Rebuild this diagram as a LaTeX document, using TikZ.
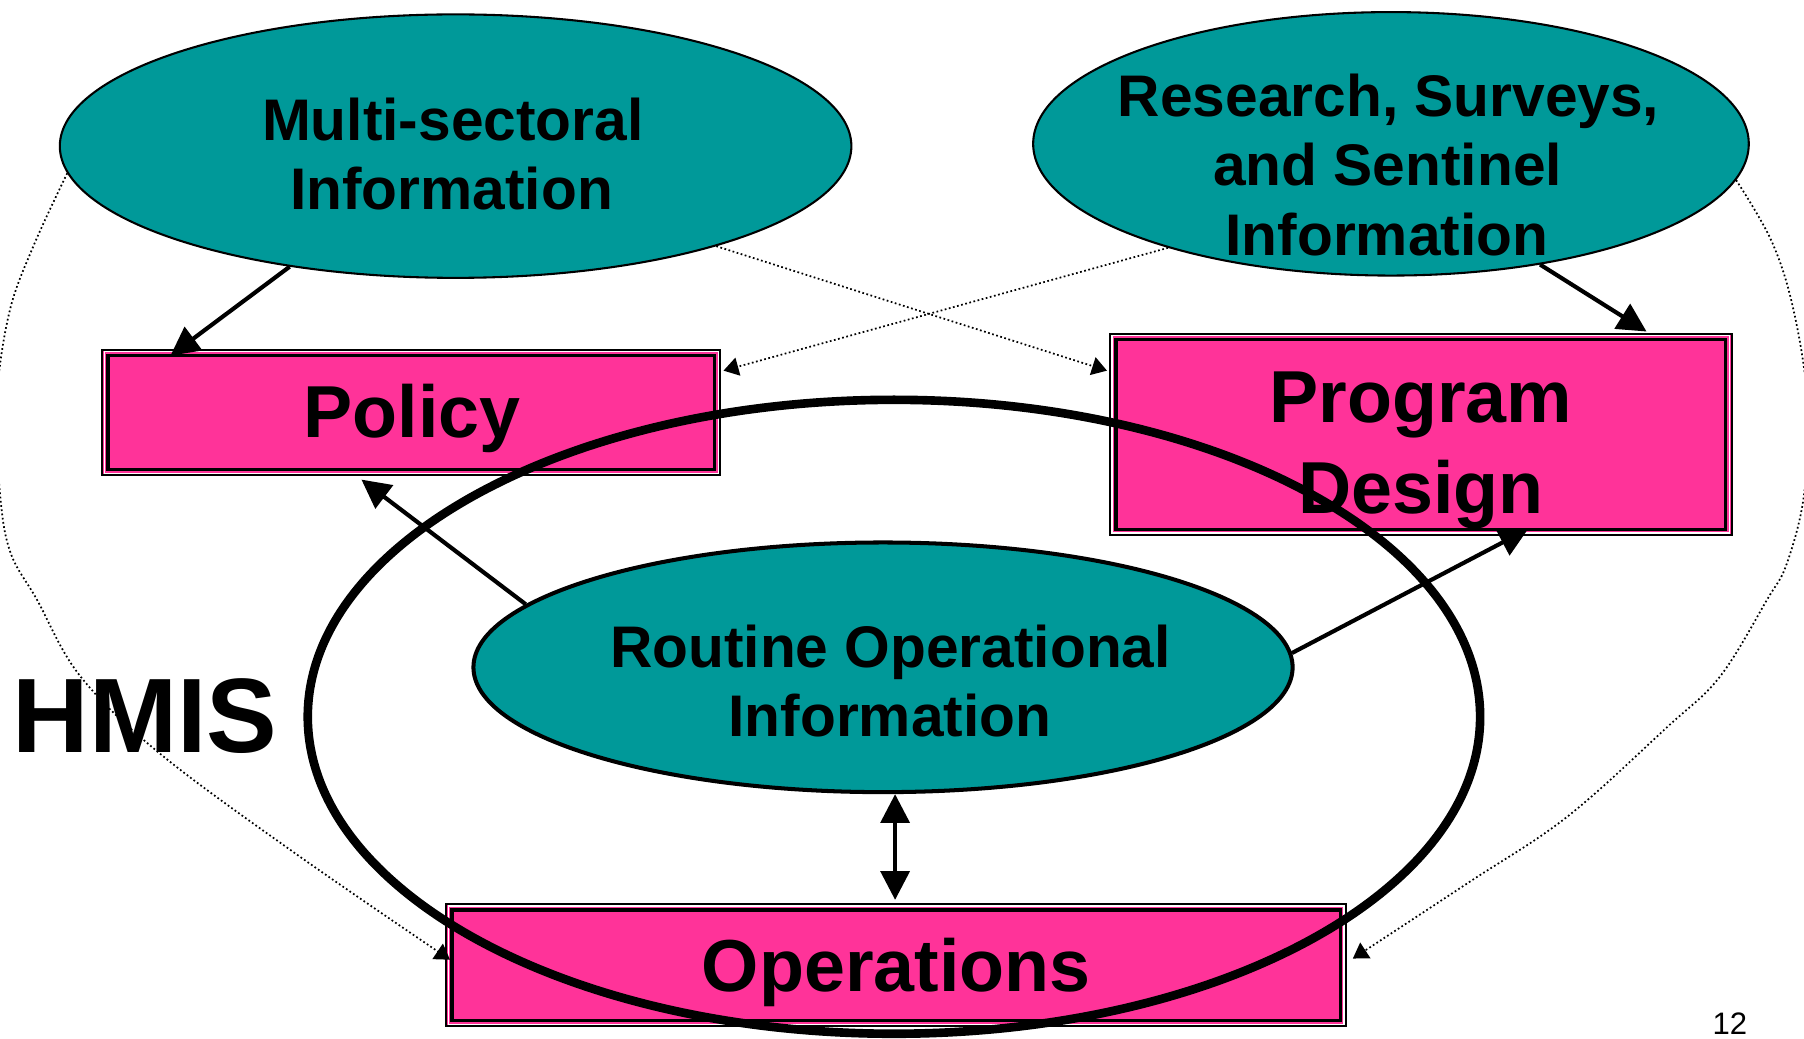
\documentclass[tikz,border=0pt]{standalone}
\usepackage{fontspec}
\setmainfont{Liberation Sans}
\usetikzlibrary{arrows.meta,shapes.geometric,calc}
\definecolor{tealfill}{HTML}{009999}
\definecolor{pinkfill}{HTML}{FF3399}
\begin{document}
\begin{tikzpicture}[x=1pt,y=-1pt,
  info/.style={ellipse, draw=black, fill=tealfill, inner sep=0pt},
  pbox/.style={rectangle, draw=black, fill=pinkfill, line width=1.7pt, inner sep=0pt},
  etxt/.style={anchor=base, inner sep=0pt, font=\fontsize{51}{60}\selectfont\bfseries},
  btxt/.style={anchor=base, inner sep=0pt, font=\fontsize{64}{78}\selectfont\bfseries},
  solidarr/.style={line width=3.6pt, -{Triangle[length=25pt,width=25pt]}},
  botharr/.style={line width=3.6pt, {Triangle[length=25pt,width=25pt]}-{Triangle[length=25pt,width=25pt]}},
  dotarr/.style={line width=1.5pt, dash pattern=on 1.5pt off 2.2pt, -{Triangle[length=13pt,width=16pt]}},
  ringstyle/.style={ellipse, draw=black, line width=7.5pt, inner sep=0pt}
]
\useasboundingbox (0,0) rectangle (1568,903);

% information ellipses
\node[info, line width=1.8pt, minimum width=688pt, minimum height=229pt] (multi) at (396,127) {};
\node[info, line width=1.8pt, minimum width=622pt, minimum height=229pt] (research) at (1209,125) {};
\node[info, line width=3.5pt, minimum width=712pt, minimum height=217pt] (routine) at (767.5,580) {};

% use boxes
\node[pbox, minimum width=537pt, minimum height=109pt] (pol) at (357.5,358.5) {};
\node[pbox, minimum width=540pt, minimum height=175pt] (prog) at (1235,377.5) {};
\node[pbox, minimum width=782pt, minimum height=106pt] (ops) at (779,839) {};
\foreach \n in {pol,prog,ops}{
  \draw[white, line width=1.3pt] ([shift={(2.5pt,-2.5pt)}]\n.north west) rectangle ([shift={(-2.5pt,2.5pt)}]\n.south east);
  \draw[black, line width=2.8pt] ([shift={(5.8pt,-5.8pt)}]\n.north west) rectangle ([shift={(-5.8pt,5.8pt)}]\n.south east);
}

% texts
\node[etxt] (multiT1) at (393.5,122) {Multi-sectoral};
\node[etxt] (multiT2) at (392.5,182) {Information};
\node[etxt] (resT1) at (1207,101) {Research, Surveys,};
\node[etxt] (resT2) at (1206,161) {and Sentinel};
\node[etxt] (resT3) at (1205.5,222) {Information};
\node[etxt] (routT1) at (774,580) {Routine Operational};
\node[etxt] (routT2) at (773.5,640) {Information};
\node[btxt] (polT) at (358,380) {Policy};
\node[btxt] (progT1) at (1235,367) {Program};
\node[btxt] (progT2) at (1235,446) {Design};
\node[btxt] (opsT) at (779,862) {Operations};
\node[anchor=base, inner sep=0pt, font=\fontsize{92}{100}\selectfont\bfseries] (hmis) at (126,654) {HMIS};
\node[anchor=base, inner sep=0pt, font=\fontsize{27}{30}\selectfont] (pagenum) at (1503.5,899) {12};

% HMIS ring
\node[ringstyle, minimum width=1019pt, minimum height=551pt] (ring) at (777,623) {};

% named end points
\coordinate (opsL) at ($(ops.north west)+(4,49)$);
\coordinate (opsR) at ($(ops.north east)+(5,48)$);

% outer dotted connectors
\draw[dotarr] plot[smooth, tension=0.6] coordinates {(multi.184) (29,214) (8,272) (-3,350) (0,429) (9,480) (32,521) (70,588) (139,655) (257,742) (opsL)};
\draw[dotarr] plot[smooth, tension=0.6] coordinates {(research.354) (1540,210) (1559,270) (1571,350) (1568,430) (1553,490) (1536,521) (1495,588) (1449,632) (1362,710) (1275,768) (opsR)};

% crossing dotted connectors
\draw[dotarr] (multi.339) -- ($(prog.north west)+(-2,33)$);
\draw[dotarr] (research.205) -- ($(pol.north east)+(2,19)$);

% solid connectors
\draw[solidarr] (multi.216) -- ($(pol.north west)+(60,6)$);
\draw[solidarr] (research.321) -- ($(prog.north west)+(467,-1)$);
\draw[solidarr] (routine.170) -- ($(pol.south west)+(226,3)$);
\draw[solidarr] (routine.2.4) -- ($(prog.south west)+(364,-6)$);
\draw[botharr] ($(routine.south)+(10.5,0)$) -- ($(ops.north)+(-1,-3)$);
\end{tikzpicture}
\end{document}
